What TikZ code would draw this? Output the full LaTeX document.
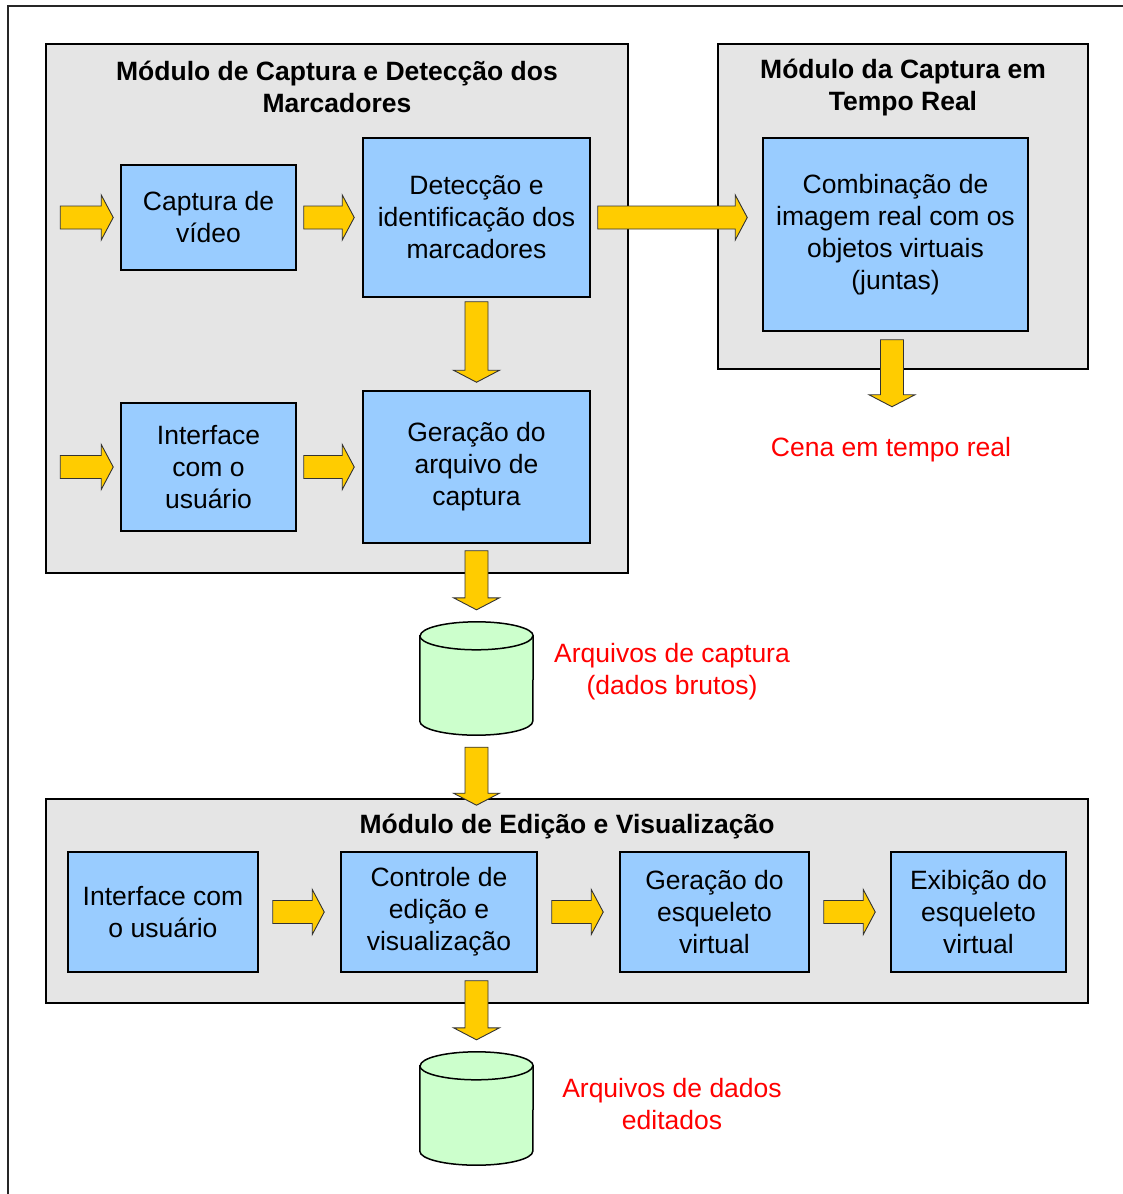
\documentclass[tikz,border=0pt]{standalone}
\usepackage{fontspec}
\setmainfont{Liberation Sans}
\usetikzlibrary{calc}

\definecolor{modgray}{HTML}{E5E5E5}
\definecolor{boxblue}{HTML}{99CCFF}
\definecolor{arrowyellow}{HTML}{FFCC00}
\definecolor{dbgreen}{HTML}{CCFFCC}
\definecolor{notered}{HTML}{FF0000}

\tikzset{
  module/.style={draw=black, fill=modgray, line width=1.6pt, inner sep=0pt},
  block/.style={draw=black, fill=boxblue, line width=1.5pt, inner sep=2pt,
    align=center, font=\fontsize{26.5}{32}\selectfont},
  modtitle/.style={align=center, inner sep=0pt, font=\fontsize{26.5}{32}\selectfont\bfseries},
  note/.style={align=center, inner sep=0pt, text=notered, font=\fontsize{26.5}{32}\selectfont},
  yarrow/.style={draw=black!80, fill=arrowyellow, line width=0.9pt, line join=miter},
  dbbox/.style={inner sep=0pt, minimum width=113pt, minimum height=113pt},
  dbshape/.style={draw=black, fill=dbgreen, line width=1.5pt},
}

% block arrow pointing right, from #1 to #2 (taken at the height of #1)
\newcommand\rightblock[2]{%
  \path[yarrow] let \p1=(#1), \p2=(#2) in
    (\x1,\y1+11.5pt) -- (\x2-12pt,\y1+11.5pt) -- (\x2-12pt,\y1+22.5pt) -- (\x2,\y1)
    -- (\x2-12pt,\y1-22.5pt) -- (\x2-12pt,\y1-11.5pt) -- (\x1,\y1-11.5pt) -- cycle;}
% block arrow pointing down, from #1 to #2 (taken at the abscissa of #1)
\newcommand\downblock[2]{%
  \path[yarrow] let \p1=(#1), \p2=(#2) in
    (\x1-11.5pt,\y1) -- (\x1-11.5pt,\y2+12pt) -- (\x1-23pt,\y2+12pt) -- (\x1,\y2)
    -- (\x1+23pt,\y2+12pt) -- (\x1+11.5pt,\y2+12pt) -- (\x1+11.5pt,\y1) -- cycle;}
% database cylinder drawn inside the square node #1
\newcommand\database[1]{%
  \path[dbshape] ([yshift=-14pt]#1.north west) -- ([yshift=14pt]#1.south west)
    arc[start angle=180, end angle=360, x radius=56.5pt, y radius=14pt]
    -- ([yshift=-14pt]#1.north east)
    arc[start angle=0, end angle=180, x radius=56.5pt, y radius=14pt] -- cycle;
  \draw[dbshape, fill=none] ([yshift=-14pt]#1.north west)
    arc[start angle=180, end angle=360, x radius=56.5pt, y radius=14pt];}

\begin{document}
\begin{tikzpicture}[x=1pt, y=-1pt]
\useasboundingbox (0,0) rectangle (1123,1194);

% outer frame (runs off the page on the right and bottom)
\draw[black!85, line width=1.8pt] (8,1194) -- (8,6) -- (1123,6);

% modules
\node[module, minimum width=582pt, minimum height=529pt] (m1) at (337,308.5) {};
\node[module, minimum width=370pt, minimum height=325pt] (m2) at (903,206.5) {};
\node[module, minimum width=1042pt, minimum height=204pt] (m3) at (567,901) {};

\node[modtitle] (t1) at ($(m1.north)+(0,44)$) {Módulo de Captura e Detecção dos\\Marcadores};
\node[modtitle] (t2) at ($(m2.north)+(0,44)$) {Módulo da Captura em\\Tempo Real};
\node[modtitle] (t3) at ($(m3.north)+(0,28.5)$) {Módulo de Edição e Visualização};

% capture and marker detection
\node[block, minimum width=175pt, minimum height=105pt] (cap) at (208.5,217.5) {Captura de\\vídeo};
\node[block, minimum width=227pt, minimum height=159pt] (det) at (476.5,217.5) {Detecção e\\identificação dos\\marcadores};
\node[block, minimum width=175pt, minimum height=128pt] (int1) at (208.5,467) {Interface\\com o\\usuário};
\node[block, minimum width=227pt, minimum height=152pt] (gen) at (476.5,467) {Geração do\\arquivo de\\captura};

% real-time capture
\node[block, minimum width=265pt, minimum height=193pt] (comb) at (895.5,234.5) {Combinação de\\imagem real com os\\objetos virtuais\\(juntas)};

% editing and visualisation
\node[block, minimum width=190pt, minimum height=120pt] (int2) at (163,912) {Interface com\\o usuário};
\node[block, minimum width=196pt, minimum height=120pt] (ctrl) at (439,912) {Controle de\\edição e\\visualização};
\node[block, minimum width=189pt, minimum height=120pt] (geq) at (714.5,912) {Geração do\\esqueleto\\virtual};
\node[block, minimum width=175pt, minimum height=120pt] (exib) at (978.5,912) {Exibição do\\esqueleto\\virtual};

% data stores
\node[dbbox] (cyl1) at (476.5,678.5) {};
\node[dbbox] (cyl2) at (476.5,1108.5) {};
\database{cyl1}
\database{cyl2}

% notes
\node[note] (cena) at (891,449.5) {Cena em tempo real};
\node[note] (raw) at (672,671.5) {Arquivos de captura\\(dados brutos)};
\node[note] (edit) at (672,1104) {Arquivos de dados\\editados};

% entry points
\coordinate (incap) at ($(cap.west)+(-60,0)$);
\coordinate (inint) at ($(int1.west)+(-60,0)$);
\coordinate (sceneout) at ($(comb.south)+(-3.5,75)$);

% arrows
\rightblock{incap}{$(cap.west)+(-7,0)$}
\rightblock{$(cap.east)+(7,0)$}{$(det.west)+(-8,0)$}
\rightblock{$(det.east)+(7,0)$}{$(comb.west)+(-15,0)$}
\rightblock{inint}{$(int1.west)+(-7,0)$}
\rightblock{$(int1.east)+(7,0)$}{$(gen.west)+(-8,0)$}
\downblock{$(det.south)+(0,4)$}{$(gen.north)+(0,-8)$}
\downblock{$(gen.south)+(0,7)$}{$(cyl1.north)+(0,-12)$}
\downblock{$(comb.south)+(-3.5,8)$}{sceneout}
\downblock{$(cyl1.south)+(0,12)$}{$(m3.north)+(0,7)$}
\rightblock{$(int2.east)+(14,0)$}{$(ctrl.west)+(-16,0)$}
\rightblock{$(ctrl.east)+(14,0)$}{$(geq.west)+(-16,0)$}
\rightblock{$(geq.east)+(14,0)$}{$(exib.west)+(-15,0)$}
\downblock{$(cyl2.north |- ctrl.south)+(0,8)$}{$(cyl2.north)+(0,-12)$}
\end{tikzpicture}
\end{document}
